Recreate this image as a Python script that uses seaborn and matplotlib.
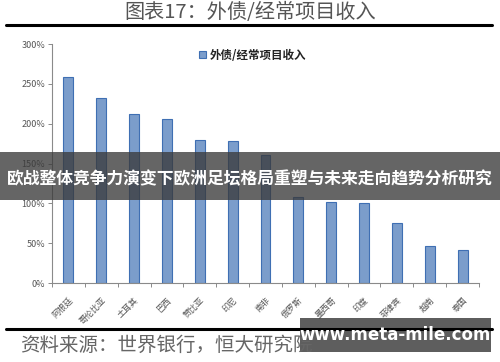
import matplotlib
matplotlib.use("Agg")
import matplotlib.pyplot as plt
import seaborn as sns
import pandas as pd
import numpy as np
from matplotlib.ticker import FuncFormatter, FixedLocator

countries = ["阿根廷", "哥伦比亚", "土耳其", "巴西", "赞比亚", "印尼", "南非",
             "俄罗斯", "墨西哥", "印度", "菲律宾", "越南", "泰国"]
ratio_pct = [259, 233, 212, 206, 180, 178, 161, 108, 102, 101, 75, 46, 41]
series_name = "外债/经常项目收入"
title_text = "图表17：外债/经常项目收入"
source_text = "资料来源：世界银行，恒大研究院"
banner_text = "欧战整体竞争力演变下欧洲足坛格局重塑与未来走向趋势分析研究"
watermark_text = "www.meta-mile.com"
y_ticks = [0, 50, 100, 150, 200, 250, 300]

sns.set_theme(style="white")
plt.rcParams['font.family'] = ['Noto Sans CJK SC', 'DejaVu Sans']

df = pd.DataFrame({"country": countries, "value": ratio_pct})

fig = plt.figure(figsize=(5.0, 3.62), dpi=100)
fig.patch.set_facecolor("white")
ax = fig.add_axes([0.104, 0.218, 0.854, 0.66])

sns.barplot(data=df, x="country", y="value", ax=ax, color="#6e9bd8",
            width=0.3, edgecolor="#3f6fb3", linewidth=0.8, label=series_name)

ax.set_ylim(0, 300)
ax.set_xlim(-0.5, len(countries) - 0.5)
ax.yaxis.set_major_locator(FixedLocator(y_ticks))
ax.yaxis.set_major_formatter(FuncFormatter(lambda v, p: f"{v:.0f}%"))
ax.set_xlabel("")
ax.set_ylabel("")
for s in ["top", "right"]:
    ax.spines[s].set_visible(False)
for s in ["left", "bottom"]:
    ax.spines[s].set_color("#8a8a8a")
    ax.spines[s].set_linewidth(0.8)

ax.tick_params(axis="y", which="major", left=True, length=3, width=0.7,
               color="#8a8a8a", labelsize=6.5, labelcolor="#555555", pad=2)
ax.tick_params(axis="x", which="major", bottom=False, labelsize=6,
               labelcolor="#555555", pad=3)
ax.set_xticks(np.arange(-0.5, len(countries), 1.0), minor=True)
ax.tick_params(axis="x", which="minor", bottom=True, length=3, width=0.7,
               color="#8a8a8a")
for lbl in ax.get_xticklabels():
    lbl.set_rotation(45)
    lbl.set_ha("right")
    lbl.set_rotation_mode("anchor")

leg = ax.legend(loc="upper center", bbox_to_anchor=(0.47, 1.025), frameon=False,
                fontsize=8.3, handlelength=0.6, handleheight=0.6, handletextpad=0.3)
for t in leg.get_texts():
    t.set_fontweight("bold")
    t.set_color("#222222")

# title and rules
fig.text(0.5, 0.965, title_text, ha="center", va="center", fontsize=14.5,
         color="#555555", fontweight="light")
fig.add_artist(plt.Line2D([0.012, 0.984], [0.932, 0.932], color="black",
                          linewidth=2.2, transform=fig.transFigure))
fig.add_artist(plt.Line2D([0.012, 0.984], [0.091, 0.091], color="black",
                          linewidth=2.2, transform=fig.transFigure))
fig.text(0.04, 0.045, source_text, ha="left", va="center", fontsize=14,
         color="#666666", fontweight="light")

# overlay banner
fig.add_artist(plt.Rectangle((0.0, 0.448), 1.0, 0.132, transform=fig.transFigure,
                             facecolor="#3a3a3a", alpha=0.78, edgecolor="none"))
fig.text(0.5, 0.506, banner_text, ha="center", va="center", fontsize=12.1,
         color="white", fontweight="bold")

# watermark
fig.add_artist(plt.Rectangle((0.6, 0.028), 0.382, 0.094, transform=fig.transFigure,
                             facecolor="#3a3a3a", alpha=0.82, edgecolor="none"))
fig.text(0.79, 0.075, watermark_text, ha="center", va="center", fontsize=12,
         color="white", fontweight="bold", family=["DejaVu Sans"])

fig.savefig("out.png", dpi=100, facecolor="white")
